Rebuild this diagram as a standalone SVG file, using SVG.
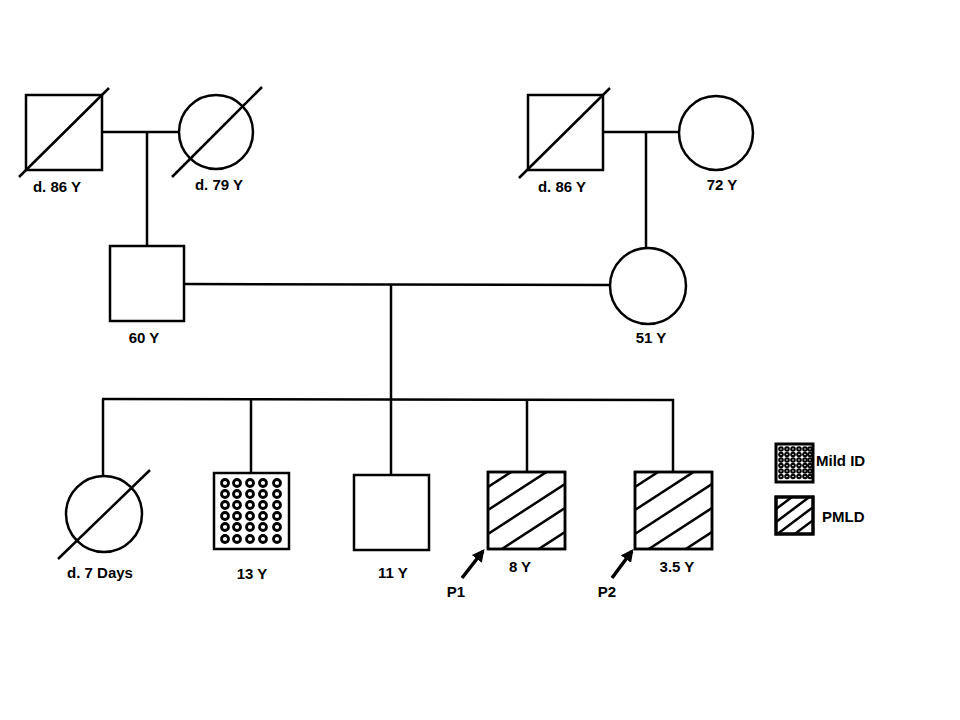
<svg xmlns="http://www.w3.org/2000/svg" width="960" height="720" viewBox="0 0 960 720">
<style>
.s{fill:#fff;stroke:#000;stroke-width:2.5}
.l{stroke:#000;stroke-width:2.5;fill:none}
.a{stroke:#000;stroke-width:3.5;fill:none}
.h{stroke:#000;stroke-width:2.5}
.r{fill:none;stroke:#000;stroke-width:2.8}
.t{font-family:"Liberation Sans",Arial,sans-serif;font-weight:bold;font-size:15px;fill:#000;text-anchor:middle}
.ts{font-family:"Liberation Sans",Arial,sans-serif;font-weight:bold;font-size:15px;fill:#000;text-anchor:start}
</style>
<defs>
<clipPath id="c77"><rect x="0" y="0" width="77" height="77"/></clipPath>
<clipPath id="c37"><rect x="0" y="0" width="37" height="37"/></clipPath>
<g id="hatch">
<line class="h" x1="0" y1="15" x2="80" y2="-37"/>
<line class="h" x1="0" y1="38" x2="80" y2="-14"/>
<line class="h" x1="0" y1="62" x2="80" y2="10"/>
<line class="h" x1="0" y1="86" x2="80" y2="34"/>
<line class="h" x1="0" y1="110" x2="80" y2="58"/>
</g>
<marker id="ah" viewBox="0 0 10 10" refX="8" refY="5" markerWidth="3.6" markerHeight="3.6" orient="auto">
<path d="M0,0 L10,5 L0,10 z" fill="#000"/>
</marker>
</defs>
<rect width="960" height="720" fill="#fff"/>

<g id="connectors">
<line class="l" x1="102" y1="132" x2="179" y2="132"/>
<line class="l" x1="147" y1="132" x2="147" y2="246"/>
<line class="l" x1="603" y1="132" x2="679" y2="132"/>
<line class="l" x1="646" y1="132" x2="646" y2="248"/>
<line class="l" x1="184" y1="284" x2="610" y2="285"/>
<line class="l" x1="391" y1="284" x2="391" y2="399"/>
<line class="l" x1="102" y1="399" x2="674" y2="400"/>
<line class="l" x1="103" y1="399" x2="103" y2="476"/>
<line class="l" x1="251" y1="399" x2="251" y2="473"/>
<line class="l" x1="391" y1="399" x2="391" y2="475"/>
<line class="l" x1="527" y1="399" x2="527" y2="472"/>
<line class="l" x1="673" y1="399" x2="673" y2="472"/>
</g>

<g id="gp1">
<rect class="s" x="26" y="95" width="76" height="75"/>
<line class="l" x1="19" y1="177" x2="109" y2="88"/>
<text class="t" x="57" y="192">d. 86 Y</text>
</g>
<g id="gm1">
<circle class="s" cx="216" cy="132" r="37"/>
<line class="l" x1="172" y1="177" x2="262" y2="87"/>
<text class="t" x="219" y="190">d. 79 Y</text>
</g>
<g id="gp2">
<rect class="s" x="528" y="95" width="75" height="75"/>
<line class="l" x1="519" y1="178" x2="610" y2="88"/>
<text class="t" x="562" y="192">d. 86 Y</text>
</g>
<g id="gm2">
<circle class="s" cx="716" cy="133" r="37"/>
<text class="t" x="722" y="190">72 Y</text>
</g>
<g id="father">
<rect class="s" x="110" y="246" width="74" height="75"/>
<text class="t" x="144" y="343">60 Y</text>
</g>
<g id="mother">
<circle class="s" cx="648" cy="286" r="38"/>
<text class="t" x="651" y="343">51 Y</text>
</g>
<g id="sib1">
<circle class="s" cx="104" cy="514" r="38"/>
<line class="l" x1="58" y1="559" x2="150" y2="470"/>
<text class="t" x="100" y="578">d. 7 Days</text>
</g>
<g id="sib2">
<rect class="s" x="214" y="473" width="75" height="76"/>
<g transform="translate(213,473)">
<g class="r">
<circle cx="12" cy="10" r="3.5"/><circle cx="24" cy="10" r="3.5"/><circle cx="37" cy="10" r="3.5"/><circle cx="50" cy="10" r="3.5"/><circle cx="64" cy="10" r="3.5"/>
<circle cx="12" cy="21" r="3.5"/><circle cx="24" cy="21" r="3.5"/><circle cx="37" cy="21" r="3.5"/><circle cx="50" cy="21" r="3.5"/><circle cx="64" cy="21" r="3.5"/>
<circle cx="12" cy="32" r="3.5"/><circle cx="24" cy="32" r="3.5"/><circle cx="37" cy="32" r="3.5"/><circle cx="50" cy="32" r="3.5"/><circle cx="64" cy="32" r="3.5"/>
<circle cx="12" cy="43" r="3.5"/><circle cx="24" cy="43" r="3.5"/><circle cx="37" cy="43" r="3.5"/><circle cx="50" cy="43" r="3.5"/><circle cx="64" cy="43" r="3.5"/>
<circle cx="12" cy="54" r="3.5"/><circle cx="24" cy="54" r="3.5"/><circle cx="37" cy="54" r="3.5"/><circle cx="50" cy="54" r="3.5"/><circle cx="64" cy="54" r="3.5"/>
<circle cx="12" cy="66" r="3.5"/><circle cx="24" cy="66" r="3.5"/><circle cx="37" cy="66" r="3.5"/><circle cx="50" cy="66" r="3.5"/><circle cx="64" cy="66" r="3.5"/>
</g>
</g>
<text class="t" x="252" y="579">13 Y</text>
</g>
<g id="sib3">
<rect class="s" x="354" y="475" width="75" height="75"/>
<text class="t" x="393" y="578">11 Y</text>
</g>
<g id="p1">
<rect class="s" x="488" y="472" width="77" height="77"/>
<g transform="translate(488,472)" clip-path="url(#c77)"><use href="#hatch"/></g>
<rect x="488" y="472" width="77" height="77" fill="none" stroke="#000" stroke-width="2.5"/>
<text class="t" x="520" y="572">8 Y</text>
<line class="a" x1="462" y1="578" x2="483" y2="551" marker-end="url(#ah)"/>
<text class="t" x="456" y="597">P1</text>
</g>
<g id="p2">
<rect class="s" x="635" y="472" width="77" height="77"/>
<g transform="translate(635,472)" clip-path="url(#c77)"><use href="#hatch"/></g>
<rect x="635" y="472" width="77" height="77" fill="none" stroke="#000" stroke-width="2.5"/>
<text class="t" x="677" y="572">3.5 Y</text>
<line class="a" x1="612" y1="578" x2="632" y2="551" marker-end="url(#ah)"/>
<text class="t" x="607" y="597">P2</text>
</g>

<g id="legend-mild">
<rect x="776" y="444" width="37" height="38" fill="#fff" stroke="#000" stroke-width="3"/>
<g fill="none" stroke="#000" stroke-width="2">
<g transform="translate(776,444)">
<circle cx="5" cy="5" r="1.8"/><circle cx="11" cy="5" r="1.8"/><circle cx="17" cy="5" r="1.8"/><circle cx="23" cy="5" r="1.8"/><circle cx="29" cy="5" r="1.8"/><circle cx="34" cy="5" r="1.8"/>
<circle cx="5" cy="10.5" r="1.8"/><circle cx="11" cy="10.5" r="1.8"/><circle cx="17" cy="10.5" r="1.8"/><circle cx="23" cy="10.5" r="1.8"/><circle cx="29" cy="10.5" r="1.8"/><circle cx="34" cy="10.5" r="1.8"/>
<circle cx="5" cy="16" r="1.8"/><circle cx="11" cy="16" r="1.8"/><circle cx="17" cy="16" r="1.8"/><circle cx="23" cy="16" r="1.8"/><circle cx="29" cy="16" r="1.8"/><circle cx="34" cy="16" r="1.8"/>
<circle cx="5" cy="21.5" r="1.8"/><circle cx="11" cy="21.5" r="1.8"/><circle cx="17" cy="21.5" r="1.8"/><circle cx="23" cy="21.5" r="1.8"/><circle cx="29" cy="21.5" r="1.8"/><circle cx="34" cy="21.5" r="1.8"/>
<circle cx="5" cy="27" r="1.8"/><circle cx="11" cy="27" r="1.8"/><circle cx="17" cy="27" r="1.8"/><circle cx="23" cy="27" r="1.8"/><circle cx="29" cy="27" r="1.8"/><circle cx="34" cy="27" r="1.8"/>
<circle cx="5" cy="32.5" r="1.8"/><circle cx="11" cy="32.5" r="1.8"/><circle cx="17" cy="32.5" r="1.8"/><circle cx="23" cy="32.5" r="1.8"/><circle cx="29" cy="32.5" r="1.8"/><circle cx="34" cy="32.5" r="1.8"/>
</g>
</g>
<text class="ts" x="816" y="466">Mild ID</text>
</g>
<g id="legend-pmld">
<rect x="776" y="497" width="37" height="37" fill="#fff" stroke="#000" stroke-width="3"/>
<g transform="translate(776,497)" clip-path="url(#c37)">
<line class="h" x1="0" y1="12" x2="40" y2="-18"/>
<line class="h" x1="0" y1="25" x2="40" y2="-5"/>
<line class="h" x1="0" y1="38" x2="40" y2="8"/>
<line class="h" x1="0" y1="51" x2="40" y2="21"/>
<line class="h" x1="0" y1="64" x2="40" y2="34"/>
</g>
<rect x="776" y="497" width="37" height="37" fill="none" stroke="#000" stroke-width="3"/>
<text class="ts" x="822" y="522">PMLD</text>
</g>
</svg>
